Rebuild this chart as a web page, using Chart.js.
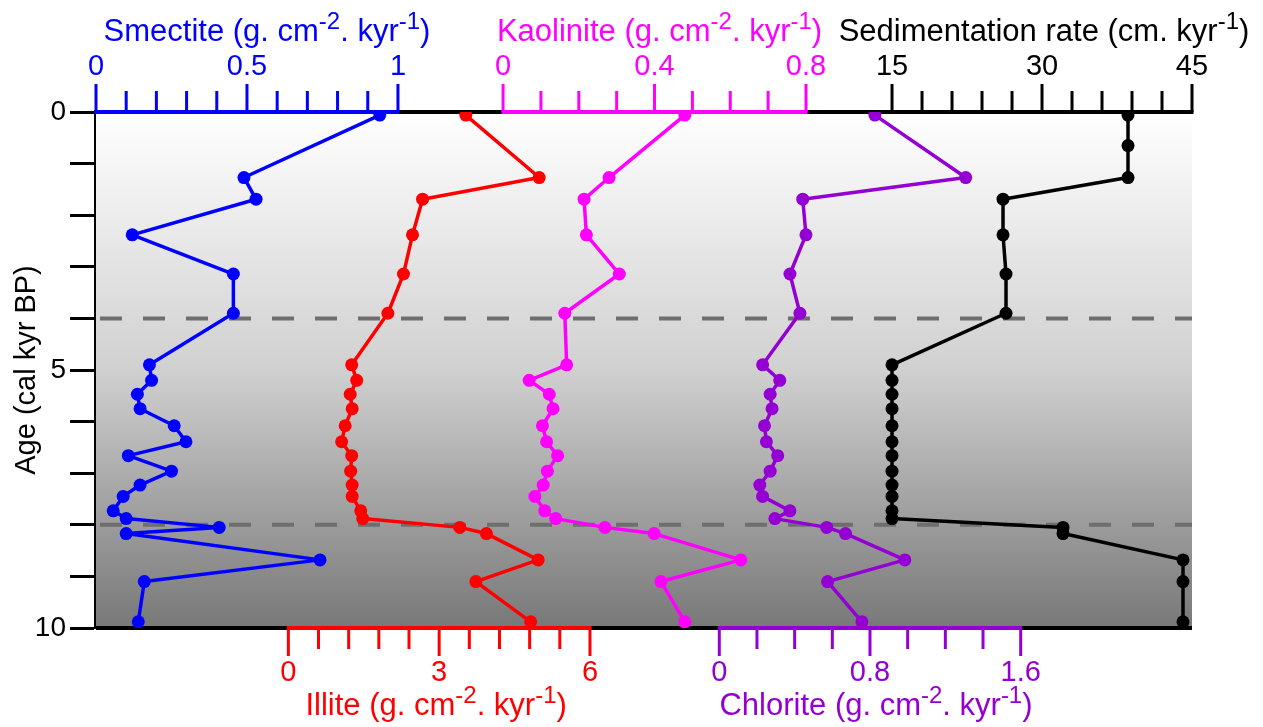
<!DOCTYPE html>
<html lang="en">
<head>
<meta charset="UTF-8">
<title>Clay mineral fluxes and sedimentation rate</title>
<script src="https://cdn.jsdelivr.net/npm/chart.js@4"></script>
<style>
  html, body { margin: 0; padding: 0; background: #fff; }
  #wrap { width: 1263px; height: 727px; }
</style>
</head>
<body>
<div id="wrap"><canvas id="chart" width="1263" height="727"></canvas></div>
<script>
// sample ages (cal kyr BP), shared by the clay mineral records
const ages = [0.06, 1.27, 1.69, 2.38, 3.14, 3.9, 4.9, 5.2, 5.47, 5.75, 6.08, 6.39,
              6.66, 6.96, 7.23, 7.45, 7.73, 7.88, 8.05, 8.17, 8.68, 9.1, 9.88];

// fluxes, g cm-2 kyr-1
const smectite  = [0.94, 0.49, 0.53, 0.12, 0.455, 0.455, 0.177, 0.184, 0.137, 0.146, 0.259, 0.298,
                   0.107, 0.25, 0.146, 0.09, 0.057, 0.10, 0.408, 0.10, 0.742, 0.16, 0.14];
const illite    = [3.53, 4.99, 2.67, 2.47, 2.29, 1.98, 1.26, 1.36, 1.23, 1.27, 1.13, 1.06,
                   1.26, 1.24, 1.27, 1.27, 1.44, 1.48, 3.41, 3.94, 4.97, 3.73, 4.82];
const kaolinite = [0.48, 0.28, 0.214, 0.22, 0.307, 0.163, 0.168, 0.069, 0.122, 0.132, 0.104, 0.115,
                   0.144, 0.117, 0.106, 0.084, 0.11, 0.139, 0.269, 0.399, 0.628, 0.417, 0.48];
const chlorite  = [0.826, 1.308, 0.443, 0.46, 0.375, 0.428, 0.23, 0.321, 0.27, 0.28, 0.24, 0.25,
                   0.31, 0.27, 0.215, 0.23, 0.375, 0.295, 0.57, 0.67, 0.985, 0.575, 0.757];

// sedimentation rate, cm kyr-1
const sedAges = [0.06, 0.65, 1.27, 1.69, 2.38, 3.14, 3.9, 4.9, 5.2, 5.47, 5.75, 6.08,
                 6.39, 6.66, 6.96, 7.23, 7.45, 7.73, 7.88, 8.05, 8.17, 8.68, 9.1, 9.88];
const sedRate = [38.6, 38.6, 38.6, 26.1, 26.1, 26.4, 26.4, 15, 15, 15, 15, 15,
                 15, 15, 15, 15, 15, 15, 15, 32.1, 32.1, 44.1, 44.1, 44.1];

// tick labels of each axis
const smTicks  = [0, 0.5, 1];
const kaTicks  = [0, 0.4, 0.8];
const sedTicks = [15, 30, 45];
const ilTicks  = [0, 3, 6];
const chTicks  = [0, 0.8, 1.6];
const ageTicks = [0, 5, 10];
const zoneLines = [4, 8];

const FONT = "'Liberation Sans', Arial, sans-serif";
const unit = name => [[name + ' (g. cm'], ['-2', 1], ['. kyr'], ['-1', 1], [')']];

// each mineral gets its own short axis; a/b = where it starts/ends across the plot (0..1)
const axes = [
  { id: 'xSm',  color: '#0000ff', side: 'top',    ticks: smTicks,  step: 0.1, a: 0.0,    b: 0.2755, dx: 20, title: unit('Smectite') },
  { id: 'xKa',  color: '#ff00ff', side: 'top',    ticks: kaTicks,  step: 0.1, a: 0.3714, b: 0.6478, dx: 5,  title: unit('Kaolinite') },
  { id: 'xSed', color: '#000000', side: 'top',    ticks: sedTicks, step: 3,   a: 0.7263, b: 1.0,    dx: 2,
    title: [['Sedimentation rate (cm. kyr'], ['-1', 1], [')']] },
  { id: 'xIl',  color: '#ff0000', side: 'bottom', ticks: ilTicks,  step: 0.6, a: 0.1755, b: 0.4507, dx: -3, title: unit('Illite') },
  { id: 'xCh',  color: '#9400d3', side: 'bottom', ticks: chTicks,  step: 0.2, a: 0.5687, b: 0.8437, dx: 6,  title: unit('Chlorite') }
];

function rangeOf(ax) {
  const lo = ax.ticks[0], hi = ax.ticks[ax.ticks.length - 1];
  const per = (hi - lo) / (ax.b - ax.a);
  const min = lo - ax.a * per;
  return { min: min, max: min + per };
}

function drawRich(ctx, parts, cx, cy, size, color) {
  ctx.save();
  ctx.fillStyle = color;
  ctx.textBaseline = 'middle';
  ctx.textAlign = 'left';
  const big = size + 'px ' + FONT, small = Math.round(size * 0.76) + 'px ' + FONT;
  let w = 0;
  parts.forEach(p => { ctx.font = p[1] ? small : big; w += ctx.measureText(p[0]).width; });
  let x = cx - w / 2;
  parts.forEach(p => {
    ctx.font = p[1] ? small : big;
    ctx.fillText(p[0], x, p[1] ? cy - size * 0.3 : cy);
    x += ctx.measureText(p[0]).width;
  });
  ctx.restore();
}

const backdrop = {
  id: 'backdrop',
  beforeDatasetsDraw(chart) {
    const { ctx, chartArea: ca } = chart;
    ctx.save();
    const g = ctx.createLinearGradient(0, ca.top, 0, ca.bottom);
    g.addColorStop(0, '#ffffff');
    g.addColorStop(0.5, '#d0d0d0');
    g.addColorStop(1, '#787878');
    ctx.fillStyle = g;
    ctx.fillRect(ca.left, ca.top, ca.right - ca.left, ca.bottom - ca.top);

    // zone boundaries
    const y = chart.scales.y;
    ctx.strokeStyle = '#6e6e6e';
    ctx.lineWidth = 4;
    ctx.setLineDash([22, 21]);
    zoneLines.forEach(v => {
      const py = y.getPixelForValue(v);
      ctx.beginPath(); ctx.moveTo(ca.left + 4, py); ctx.lineTo(ca.right, py); ctx.stroke();
    });
    ctx.setLineDash([]);

    // frame top and bottom
    ctx.strokeStyle = '#000';
    ctx.lineWidth = 4;
    ctx.beginPath();
    ctx.moveTo(ca.left, ca.top); ctx.lineTo(ca.right, ca.top);
    ctx.moveTo(ca.left, ca.bottom); ctx.lineTo(ca.right, ca.bottom);
    ctx.stroke();

    // the five partial axes
    axes.forEach(ax => {
      const s = chart.scales[ax.id];
      const lo = ax.ticks[0], hi = ax.ticks[ax.ticks.length - 1];
      const major = ax.ticks[1] - ax.ticks[0];
      const top = ax.side === 'top';
      const base = top ? ca.top : ca.bottom;
      const dir = top ? -1 : 1;
      ctx.strokeStyle = ax.color;
      ctx.lineWidth = 4;
      ctx.beginPath();
      ctx.moveTo(s.getPixelForValue(lo) - 1.5, base);
      ctx.lineTo(s.getPixelForValue(hi) + 1.5, base);
      ctx.stroke();
      ctx.lineWidth = 3;
      const n = Math.round((hi - lo) / ax.step);
      for (let i = 0; i <= n; i++) {
        const v = lo + i * ax.step;
        const r = (v - lo) / major;
        const isMajor = Math.abs(r - Math.round(r)) < 1e-6;
        const px = s.getPixelForValue(v);
        ctx.beginPath();
        ctx.moveTo(px, base);
        ctx.lineTo(px, base + dir * (isMajor ? 28 : 21));
        ctx.stroke();
      }
      ctx.fillStyle = ax.color;
      ctx.font = '29px ' + FONT;
      ctx.textAlign = 'center';
      ctx.textBaseline = 'middle';
      ax.ticks.forEach(t => ctx.fillText(String(t), s.getPixelForValue(t), base + dir * 45));
      const mid = (s.getPixelForValue(lo) + s.getPixelForValue(hi)) / 2;
      drawRich(ctx, ax.title, mid + ax.dx, base + dir * (top ? 80 : 78), 31, ax.color);
    });
    ctx.restore();
  }
};

function series(xs, ys) { return xs.map((v, i) => ({ x: v, y: ys[i] })); }

function line(label, xs, ys, axisId, color) {
  return {
    label: label,
    data: series(xs, ys),
    xAxisID: axisId,
    yAxisID: 'y',
    showLine: true,
    borderColor: color,
    backgroundColor: color,
    borderWidth: 3.5,
    borderJoinStyle: 'round',
    pointRadius: 6.5,
    pointHoverRadius: 6.5,
    pointBorderWidth: 0,
    tension: 0
  };
}

const scales = {
  y: {
    type: 'linear',
    position: 'left',
    reverse: true,
    min: 0,
    max: 10,
    afterFit: s => { s.width = 96; },
    afterBuildTicks: s => { s.ticks = []; for (let i = 0; i <= 10; i++) s.ticks.push({ value: i }); },
    ticks: {
      color: '#000',
      font: { family: FONT, size: 28 },
      padding: 4,
      callback: v => ageTicks.includes(v) ? String(v) : ''
    },
    grid: { drawOnChartArea: false, tickLength: 26, tickWidth: 3, tickColor: '#000' },
    border: { color: '#000', width: 5 },
    title: {
      display: true,
      text: 'Age (cal kyr BP)',
      color: '#000',
      font: { family: FONT, size: 29 },
      padding: { top: 10, bottom: 0 }
    }
  }
};
axes.forEach(ax => {
  const r = rangeOf(ax);
  scales[ax.id] = { type: 'linear', display: false, min: r.min, max: r.max };
});

new Chart(document.getElementById('chart'), {
  type: 'scatter',
  data: {
    datasets: [
      line('Smectite', smectite, ages, 'xSm', '#0000ff'),
      line('Illite', illite, ages, 'xIl', '#ff0000'),
      line('Kaolinite', kaolinite, ages, 'xKa', '#ff00ff'),
      line('Chlorite', chlorite, ages, 'xCh', '#9400d3'),
      line('Sedimentation rate', sedRate, sedAges, 'xSed', '#000000')
    ]
  },
  options: {
    responsive: false,
    animation: false,
    layout: { padding: { left: 0, top: 112, right: 71, bottom: 99 } },
    plugins: { legend: { display: false }, tooltip: { enabled: false } },
    scales: scales
  },
  plugins: [backdrop]
});
</script>
</body>
</html>
